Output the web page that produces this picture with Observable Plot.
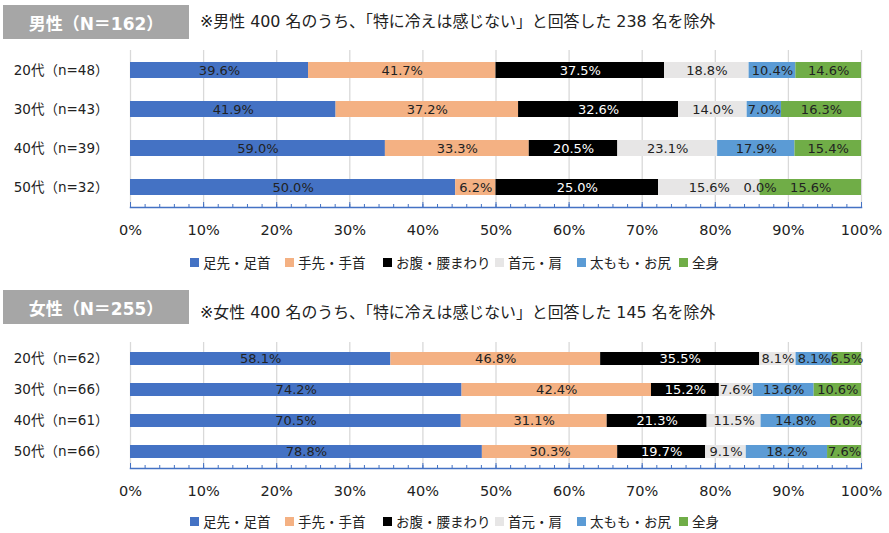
<!DOCTYPE html>
<html><head><meta charset="utf-8">
<script src="https://cdn.jsdelivr.net/npm/d3@7"></script>
<script src="https://cdn.jsdelivr.net/npm/@observablehq/plot@0.6"></script>
<style>
html,body{margin:0;padding:0;background:#fff}
body{width:889px;height:533px;position:relative;overflow:hidden;font-family:"DejaVu Sans","Noto Sans CJK JP",sans-serif;color:#222}
.title{position:absolute;left:3px;width:186px;height:34px;background:#a6a6a6;color:#fff;font-weight:bold;font-size:17px;display:flex;align-items:center;justify-content:center}
.note{position:absolute;left:200px;font-size:15.9px;line-height:20px;white-space:nowrap;color:#222}
.chart{position:absolute;left:0}
.leg{position:absolute;font-size:13.5px;line-height:16px;white-space:nowrap;display:flex;align-items:center;font-family:"Noto Sans CJK JP",sans-serif;color:#222}
.leg span.sw{display:inline-block;width:9px;height:9px;margin-right:4px}
</style>
</head><body>
<div class="title" style="top:5px">男性（N＝162）</div>
<div class="note" style="top:12px">※男性 400 名のうち、「特に冷えは感じない」と回答した 238 名を除外</div>
<div class="chart" id="c1" style="top:40px"></div>
<div id="l1"></div>
<div class="title" style="top:290px">女性（N＝255）</div>
<div class="note" style="top:303px">※女性 400 名のうち、「特に冷えは感じない」と回答した 145 名を除外</div>
<div class="chart" id="c2" style="top:332px"></div>
<div id="l2"></div>
<script>
const ages = ["20代","30代","40代","50代"];
const maleN = [48,43,39,32];
const femaleN = [62,66,61,66];
const parts = ["足先・足首","手先・手首","お腹・腰まわり","首元・肩","太もも・お尻","全身"];
const colors = ["#4472c4","#f4b183","#000000","#e7e6e6","#5b9bd5","#70ad47"];

const maleFeet  = [39.6, 41.9, 59.0, 50.0];
const maleHands = [41.7, 37.2, 33.3, 6.2];
const maleBelly = [37.5, 32.6, 20.5, 25.0];
const maleNeck  = [18.8, 14.0, 23.1, 15.6];
const maleThigh = [10.4, 7.0, 17.9, 0.0];
const maleWhole = [14.6, 16.3, 15.4, 15.6];

const femaleFeet  = [58.1, 74.2, 70.5, 78.8];
const femaleHands = [46.8, 42.4, 31.1, 30.3];
const femaleBelly = [35.5, 15.2, 21.3, 19.7];
const femaleNeck  = [8.1, 7.6, 11.5, 9.1];
const femaleThigh = [8.1, 13.6, 14.8, 18.2];
const femaleWhole = [6.5, 10.6, 6.6, 7.6];

const xTicks = [0,0.1,0.2,0.3,0.4,0.5,0.6,0.7,0.8,0.9,1];
const xMinor = d3.range(0, 51).map(d => d / 50);
const legendX = [190, 285, 383, 495, 577, 679];

function rows(ns, series) {
  const out = [];
  ages.forEach((a, i) => {
    const cat = `${a}（n=${ns[i]}）`;
    parts.forEach((p, j) => out.push({cat, part: p, value: series[j][i]}));
  });
  return out;
}

function chart(data, height, marginBottom) {
  const cats = Array.from(new Set(data.map(d => d.cat)));
  const mt = 10;
  const plotH = height - mt - marginBottom;
  const st = {x: "value", y: "cat", z: "part", offset: "normalize", order: null};
  return Plot.plot({
    width: 889, height, marginTop: mt, marginBottom, marginLeft: 130, marginRight: 28,
    x: {domain: [0, 1]},
    y: {domain: cats, paddingInner: 0.59, paddingOuter: 0.295},
    color: {domain: parts, range: colors},
    style: {fontFamily: '"DejaVu Sans","Noto Sans CJK JP",sans-serif', background: "transparent", color: "#222", overflow: "visible"},
    marks: [
      Plot.gridX(xTicks, {stroke: "#d9d9d9", strokeOpacity: 1, strokeWidth: 1.3}),
      Plot.barX(data, Plot.stackX({...st, fill: "part"})),
      Plot.text(data, Plot.stackX({...st, text: d => d.part === "お腹・腰まわり" ? null : d.value.toFixed(1) + "%", fill: "#222", fontSize: 13})),
      Plot.text(data, Plot.stackX({...st, text: d => d.part === "お腹・腰まわり" ? d.value.toFixed(1) + "%" : null, fill: "#fff", fontSize: 13})),
      Plot.frame({anchor: "bottom", stroke: "#4472c4", strokeWidth: 1.5}),
      Plot.ruleX(xMinor, {x: d => d, stroke: "#4472c4", insetTop: plotH - 3}),
      Plot.ruleX(xTicks, {x: d => d, stroke: "#4472c4", insetTop: plotH - 5}),
      Plot.axisX(xTicks, {tickSize: 0, tickPadding: 17, tickFormat: d => Math.round(d * 100) + "%", fontSize: 14.5, label: null}),
      Plot.axisY({tickSize: 0, tickPadding: 22, fontSize: 13.5, label: null})
    ]
  });
}

function legend(el, top) {
  parts.forEach((p, i) => {
    const d = document.createElement("div");
    d.className = "leg";
    d.style.left = legendX[i] + "px";
    d.style.top = (top - 8) + "px";
    d.innerHTML = `<span class="sw" style="background:${colors[i]}"></span>${p}`;
    el.appendChild(d);
  });
}

document.getElementById("c1").appendChild(chart(rows(maleN, [maleFeet, maleHands, maleBelly, maleNeck, maleThigh, maleWhole]), 210, 43));
document.getElementById("c2").appendChild(chart(rows(femaleN, [femaleFeet, femaleHands, femaleBelly, femaleNeck, femaleThigh, femaleWhole]), 175, 39));
legend(document.getElementById("l1"), 262);
legend(document.getElementById("l2"), 521);
</script>
</body></html>
